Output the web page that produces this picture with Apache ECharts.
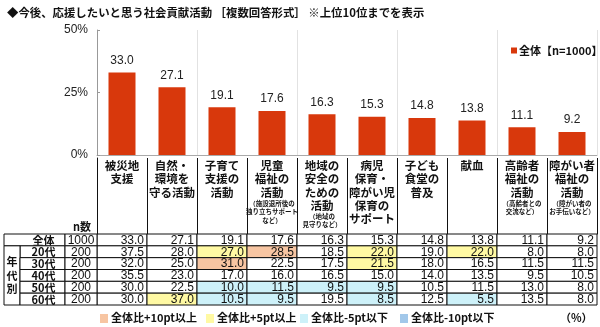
<!DOCTYPE html>
<html>
<head>
<meta charset="utf-8">
<script src="https://cdn.jsdelivr.net/npm/echarts@6/dist/echarts.min.js"></script>
<style>
  html, body { margin: 0; padding: 0; background: #ffffff; }
  #chart { width: 600px; height: 327px; }
</style>
</head>
<body>
<div id="chart"></div>
<script>
// Activities (top 10), header lines and small notes
const categories = [
  '被災地\n支援',
  '自然・\n環境を\n守る活動',
  '子育て\n支援の\n活動',
  '児童\n福祉の\n活動',
  '地域の\n安全の\nための\n活動',
  '病児\n保育・\n障がい児\n保育の\nサポート',
  '子ども\n食堂の\n普及',
  '献血',
  '高齢者\n福祉の\n活動',
  '障がい者\n福祉の\n活動'
];
const notes = [
  '', '', '',
  '（施設退所後の\n独り立ちサポート\nなど）',
  '（地域の\n見守りなど）',
  '', '', '',
  '（高齢者との\n交流など）',
  '（障がい者の\nお手伝いなど）'
];

// Percentages
const totalValues = [33.0, 27.1, 19.1, 17.6, 16.3, 15.3, 14.8, 13.8, 11.1, 9.2];
const age20s = [37.5, 28.0, 27.0, 28.5, 18.5, 22.0, 19.0, 22.0, 8.0, 8.0];
const age30s = [32.0, 25.0, 31.0, 22.5, 17.5, 21.5, 18.0, 16.5, 11.5, 11.5];
const age40s = [35.5, 23.0, 17.0, 16.0, 16.5, 15.0, 14.0, 13.5, 9.5, 10.5];
const age50s = [30.0, 22.5, 10.0, 11.5, 9.5, 9.5, 10.5, 11.5, 13.0, 8.0];
const age60s = [30.0, 37.0, 10.5, 9.5, 19.5, 8.5, 12.5, 5.5, 13.5, 8.0];

const rowLabels = ['全体', '20代', '30代', '40代', '50代', '60代'];
const rowN = [1000, 200, 200, 200, 200, 200];
const groupLabel = '年\n代\n別';

const yTicks = { min: 0, max: 50, interval: 25 };
const seriesName = '全体【n=1000】';

const diffLegend = ['全体比+10pt以上', '全体比+5pt以上', '全体比-5pt以下', '全体比-10pt以下'];
const diffColors = ['#F7C5A2', '#FFF9A3', '#CDF1F9', '#A2C8EA'];

const FONT = "'Liberation Sans', 'Noto Sans CJK JP', sans-serif";
const JFONT = "'Noto Sans CJK JP', 'Liberation Sans', sans-serif";
const BAR_COLOR = '#D8380C';

const tableRows = [totalValues, age20s, age30s, age40s, age50s, age60s];

function diffColor(d) {
  if (d >= 10) return diffColors[0];
  if (d >= 5) return diffColors[1];
  if (d <= -10) return diffColors[3];
  if (d <= -5) return diffColors[2];
  return '#ffffff';
}

// cells: [column, row, value, difference from total]
const cellData = [];
tableRows.forEach((vals, r) => {
  vals.forEach((v, c) => {
    cellData.push([c, r, v, r === 0 ? 0 : v - totalValues[c]]);
  });
});

const chart = echarts.init(document.getElementById('chart'), null, { renderer: 'canvas' });

const GL = 97, GR = 3;

function headerFormatter(value, idx) {
  const main = value.split('\n').map(s => '{b|' + s + '}');
  const sub = notes[idx] ? notes[idx].split('\n').map(s => '{s|' + s + '}') : [];
  return main.concat(sub).join('\n');
}

const legendY = 319;
const legendX = [100, 206, 300, 400];
const graphics = [];
diffLegend.forEach((t, i) => {
  graphics.push({
    type: 'rect', left: legendX[i], top: legendY - 5,
    shape: { width: 8, height: 9 }, style: { fill: diffColors[i] }
  });
  graphics.push({
    type: 'text', left: legendX[i] + 11, top: legendY - 7,
    style: { text: t, font: 'bold 11px ' + JFONT, fill: '#111' }
  });
});
graphics.push({
  type: 'text', left: 560, top: legendY - 7,
  style: { text: '（%）', font: 'bold 11px ' + JFONT, fill: '#111' }
});
graphics.push({
  type: 'text', left: 73, top: 221,
  style: { text: 'n数', font: 'bold 11px ' + JFONT, fill: '#111' }
});

const option = {
  animation: false,
  backgroundColor: '#ffffff',
  title: {
    text: '◆今後、応援したいと思う社会貢献活動 ［複数回答形式］ ※上位10位までを表示',
    left: 2, top: 2,
    textStyle: { fontSize: 11.4, fontWeight: 'bold', color: '#111', fontFamily: JFONT }
  },
  legend: {
    data: [seriesName],
    left: 506, top: 40,
    icon: 'rect', itemWidth: 6, itemHeight: 6, itemGap: 2,
    textStyle: { fontSize: 11, fontWeight: 'bold', color: '#111', fontFamily: JFONT, padding: [0, 0, 0, -3] }
  },
  graphic: graphics,
  grid: [
    { left: GL, right: GR, top: 30, height: 125 },
    { left: GL, right: GR, top: 158, height: 76 },
    { left: GL, right: GR, top: 234, height: 71 }
  ],
  xAxis: [
    {
      gridIndex: 0, type: 'category', data: categories,
      axisLine: { lineStyle: { color: '#aaaaaa' } },
      axisTick: { show: false }, axisLabel: { show: false },
      splitLine: { show: true, lineStyle: { color: '#e2e2e2' } }
    },
    {
      gridIndex: 1, type: 'category', data: categories, position: 'top',
      axisLine: { lineStyle: { color: '#111' } },
      axisTick: { show: false },
      splitLine: { show: true, lineStyle: { color: '#111' } },
      axisLabel: {
        inside: true, margin: 1, interval: 0, verticalAlign: 'top',
        formatter: headerFormatter,
        rich: {
          b: { fontSize: 11.5, fontWeight: 'bold', lineHeight: 13.3, color: '#111', fontFamily: JFONT },
          s: { fontSize: 6.5, fontWeight: 'bold', lineHeight: 8.5, color: '#111', fontFamily: JFONT }
        }
      }
    },
    {
      gridIndex: 2, type: 'category', data: categories, show: false
    }
  ],
  yAxis: [
    {
      gridIndex: 0, type: 'value', min: yTicks.min, max: yTicks.max, interval: yTicks.interval,
      axisLine: { show: true, lineStyle: { color: '#999999' } },
      axisTick: { show: true, inside: true, length: 3, lineStyle: { color: '#999999' } },
      splitLine: { show: false },
      axisLabel: { formatter: '{value}%', fontSize: 12, color: '#222', fontFamily: FONT, margin: 9 }
    },
    {
      gridIndex: 1, type: 'value', min: 0, max: 1,
      axisLine: { show: true, lineStyle: { color: '#111' } },
      axisTick: { show: false }, axisLabel: { show: false }, splitLine: { show: false }
    },
    {
      gridIndex: 2, type: 'category', data: rowLabels, inverse: true, show: false
    }
  ],
  series: [
    {
      name: seriesName, type: 'bar', xAxisIndex: 0, yAxisIndex: 0,
      data: totalValues, barWidth: 27,
      itemStyle: { color: BAR_COLOR },
      label: {
        show: true, position: 'top', distance: 6,
        formatter: p => p.value.toFixed(1),
        fontSize: 12, color: '#222', fontFamily: FONT
      }
    },
    {
      // value cells of the breakdown table
      type: 'custom', xAxisIndex: 2, yAxisIndex: 2, data: cellData,
      renderItem: (params, api) => {
        const p = api.coord([api.value(0), api.value(1)]);
        const s = api.size([1, 1]);
        const x = p[0] - s[0] / 2, y = p[1] - s[1] / 2;
        return {
          type: 'group',
          children: [
            { type: 'rect', shape: { x: x, y: y, width: s[0], height: s[1] },
              style: { fill: diffColor(api.value(3)), stroke: '#111', lineWidth: 1 } },
            { type: 'text', style: {
                x: x + s[0] - 3, y: p[1] + 0.5, text: api.value(2).toFixed(1),
                align: 'right', verticalAlign: 'middle',
                font: '12px ' + FONT, fill: '#111' } }
          ]
        };
      }
    },
    {
      // row labels and sample sizes
      type: 'custom', xAxisIndex: 2, yAxisIndex: 2,
      data: rowLabels.map((l, i) => [0, i, rowN[i]]),
      renderItem: (params, api) => {
        const r = api.value(1);
        const p = api.coord([0, r]);
        const s = api.size([1, 1]);
        const left = p[0] - s[0] / 2;
        const y = p[1] - s[1] / 2;
        const nW = 32, ageW = 45, grpW = 16;
        const nX = left - nW, ageX = nX - ageW, grpX = ageX - grpW;
        const labelX = r === 0 ? grpX : ageX;
        const labelW = r === 0 ? ageW + grpW : ageW;
        const children = [
          { type: 'rect', shape: { x: labelX, y: y, width: labelW, height: s[1] },
            style: { fill: '#fff', stroke: '#111', lineWidth: 1 } },
          { type: 'text', style: { x: ageX + ageW / 2 + 1, y: p[1] + 0.5, text: rowLabels[r],
              align: 'center', verticalAlign: 'middle', font: 'bold 11px ' + JFONT, fill: '#111' } },
          { type: 'rect', shape: { x: nX, y: y, width: nW, height: s[1] },
            style: { fill: '#fff', stroke: '#111', lineWidth: 1 } },
          { type: 'text', style: { x: nX + nW / 2, y: p[1] + 0.5, text: String(api.value(2)),
              align: 'center', verticalAlign: 'middle', font: '12px ' + FONT, fill: '#111' } }
        ];
        if (r === 1) {
          const last = api.coord([0, rowLabels.length - 1]);
          const h = (last[1] + s[1] / 2) - y;
          children.push(
            { type: 'rect', shape: { x: grpX, y: y, width: grpW, height: h },
              style: { fill: '#fff', stroke: '#111', lineWidth: 1 } },
            { type: 'text', style: { x: grpX + grpW / 2, y: y + h / 2, text: groupLabel,
                align: 'center', verticalAlign: 'middle', lineHeight: 13.5,
                font: 'bold 11px ' + JFONT, fill: '#111' } }
          );
        }
        return { type: 'group', children: children };
      }
    }
  ]
};

chart.setOption(option);
</script>
</body>
</html>
